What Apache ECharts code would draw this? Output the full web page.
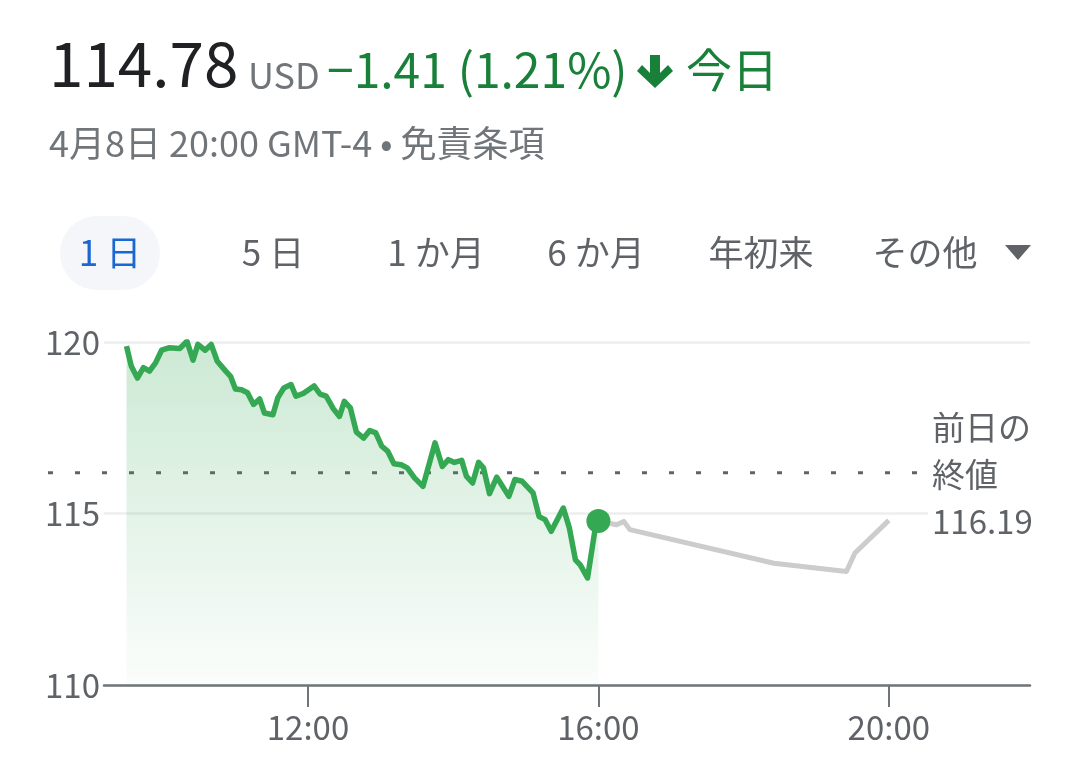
<!DOCTYPE html>
<html>
<head>
<meta charset="utf-8">
<script src="https://cdn.jsdelivr.net/npm/echarts@6/dist/echarts.min.js"></script>
<style>
  html, body { margin: 0; padding: 0; background: #ffffff; }
  #chart { width: 1080px; height: 773px; }
</style>
</head>
<body>
<div id="chart"></div>
<script>
// ---- data ----
const sessionTimes = ["9:30","9:34","9:39","9:44","9:49","9:54","9:59","10:05","10:14","10:20","10:25","10:29","10:35","10:40","10:45","10:52","10:56","11:00","11:05","11:10","11:15","11:20","11:24","11:31","11:35","11:40","11:46","11:50","11:56","12:05","12:10","12:15","12:21","12:26","12:30","12:35","12:40","12:46","12:51","12:56","13:01","13:06","13:11","13:17","13:22","13:28","13:35","13:45","13:51","13:56","14:01","14:07","14:11","14:16","14:21","14:25","14:30","14:36","14:46","14:51","14:57","15:06","15:11","15:16","15:21","15:31","15:36","15:41","15:45","15:51","15:57","16:00"];
const sessionPrices = [119.88,119.29,118.95,119.25,119.15,119.39,119.76,119.83,119.81,120.02,119.47,119.93,119.76,119.93,119.44,119.15,119.00,118.63,118.61,118.52,118.18,118.34,117.93,117.88,118.37,118.66,118.76,118.42,118.50,118.72,118.48,118.42,118.05,117.83,118.27,118.08,117.37,117.20,117.42,117.35,116.96,116.81,116.45,116.42,116.33,116.04,115.79,117.06,116.37,116.57,116.49,116.55,116.08,115.89,116.49,116.33,115.58,116.06,115.50,115.99,115.94,115.60,114.91,114.82,114.48,115.16,114.58,113.65,113.50,113.12,114.48,114.78];
const afterTimes = ["16:00","16:15","16:21","16:26","18:25","19:25","19:32","20:00"];
const afterPrices = [114.78,114.67,114.77,114.53,113.55,113.31,113.85,114.80];
const prevClose = 116.19;
const yTicks = [110, 115, 120];
const xTickLabels = ["12:00", "16:00", "20:00"];
const lastPrice = "114.78";
const currency = "USD";
const changeText = "\u22121.41 (1.21%)";
const todayText = "今日";
const subtitleText = "4月8日 20:00 GMT-4 • 免責条項";
const tabs = ["1 日", "5 日", "1 か月", "6 か月", "年初来", "その他"];
const prevCloseLabel = ["前日の", "終値"];

// ---- helpers ----
const toHours = s => { const [h, m] = s.split(":").map(Number); return h + m / 60; };
const FONT = "'Noto Sans CJK JP', 'Noto Sans', sans-serif";
const sessionData = sessionTimes.map((t, i) => [toHours(t), sessionPrices[i]]);
const afterData = afterTimes.map((t, i) => [toHours(t), afterPrices[i]]);
const xTickHours = xTickLabels.map(toHours);
const lastPoint = sessionData[sessionData.length - 1];

const chart = echarts.init(document.getElementById('chart'), null, { renderer: 'canvas' });

const tabCenters = [110, 273, 436, 596, 761, 925];
const graphics = [
  { type: 'text', x: 49, y: 63, style: { text: lastPrice, font: `400 62px ${FONT}`, fill: '#202124', verticalAlign: 'middle' } },
  { type: 'text', x: 248, y: 75, style: { text: currency, font: `400 36px ${FONT}`, fill: '#70757a', verticalAlign: 'middle' } },
  { type: 'text', x: 327, y: 70, style: { text: changeText, font: `400 48px ${FONT}`, fill: '#188038', verticalAlign: 'middle' } },
  { type: 'polygon', shape: { points: [[650, 55], [660, 55], [660, 73], [668, 65], [673, 71], [655, 88], [637, 71], [642, 65], [650, 73]] }, style: { fill: '#188038' } },
  { type: 'text', x: 686, y: 70, style: { text: todayText, font: `400 46px ${FONT}`, fill: '#188038', verticalAlign: 'middle' } },
  { type: 'text', x: 49, y: 143, style: { text: subtitleText, font: `400 36px ${FONT}`, fill: '#70757a', verticalAlign: 'middle' } },
  { type: 'rect', shape: { x: 60, y: 216, width: 100, height: 74, r: 37 }, style: { fill: '#f4f6f9' } },
  { type: 'polygon', shape: { points: [[1005, 245], [1031, 245], [1018, 260]] }, style: { fill: '#5f6368' } },
  { type: 'text', x: 928, y: 404, z: 100, style: { text: prevCloseLabel.join('\n') + '\n' + prevClose.toFixed(2), font: `400 33px ${FONT}`, lineHeight: 47, fill: '#5f6368', verticalAlign: 'top', backgroundColor: '#ffffff', padding: [0, 20, 0, 4] } }
];
tabs.forEach((t, i) => {
  graphics.push({ type: 'text', x: tabCenters[i], y: 253, style: { text: t, font: `400 35px ${FONT}`, fill: i === 0 ? '#1967d2' : '#5f6368', align: 'center', verticalAlign: 'middle' } });
});

const option = {
  animation: false,
  backgroundColor: '#ffffff',
  graphic: graphics,
  grid: [
    { left: 104, right: 50, top: 342, bottom: 88 },
    { left: 48, right: 158, top: 342, bottom: 88 }
  ],
  xAxis: [
    {
      type: 'value', gridIndex: 0, min: 9.19, max: 21.945,
      axisLine: { show: true, lineStyle: { color: '#70757a', width: 2.5 } },
      axisTick: { show: true, customValues: xTickHours, length: 22, lineStyle: { color: '#70757a', width: 2 } },
      axisLabel: {
        customValues: xTickHours, margin: 26, fontFamily: FONT, fontSize: 33, color: '#5f6368',
        formatter: v => xTickLabels[xTickHours.findIndex(h => Math.abs(h - v) < 1e-6)] || ''
      },
      splitLine: { show: false }
    },
    { type: 'value', gridIndex: 1, min: 0, max: 1, show: false }
  ],
  yAxis: [
    {
      type: 'value', gridIndex: 0, min: yTicks[0], max: yTicks[yTicks.length - 1], interval: yTicks[1] - yTicks[0],
      axisLine: { show: false }, axisTick: { show: false },
      axisLabel: { margin: 4, fontFamily: FONT, fontSize: 33, color: '#5f6368' },
      splitLine: { show: true, lineStyle: { color: '#eeeeee', width: 2.5 } }
    },
    { type: 'value', gridIndex: 1, min: yTicks[0], max: yTicks[yTicks.length - 1], show: false }
  ],
  series: [
    {
      type: 'line', xAxisIndex: 1, yAxisIndex: 1, data: [[0, prevClose], [1, prevClose]],
      symbol: 'none', silent: true, z: 1,
      lineStyle: { color: '#5f6368', width: 3, type: [5, 22] }
    },
    {
      type: 'line', data: afterData, symbol: 'none', z: 2,
      lineStyle: { color: '#cccccc', width: 5, join: 'round' }
    },
    {
      type: 'line', data: sessionData, symbol: 'none', z: 3,
      lineStyle: { color: '#34a853', width: 5.5, join: 'round' },
      areaStyle: {
        origin: 'start',
        color: new echarts.graphic.LinearGradient(0, 0, 0, 1, [
          { offset: 0, color: 'rgba(52,168,83,0.36)' },
          { offset: 1, color: 'rgba(52,168,83,0.03)' }
        ])
      }
    },
    {
      type: 'scatter', data: [lastPoint], symbol: 'circle', symbolSize: 24, z: 4,
      itemStyle: { color: '#34a853', opacity: 1 }
    }
  ]
};
chart.setOption(option);
</script>
</body>
</html>
